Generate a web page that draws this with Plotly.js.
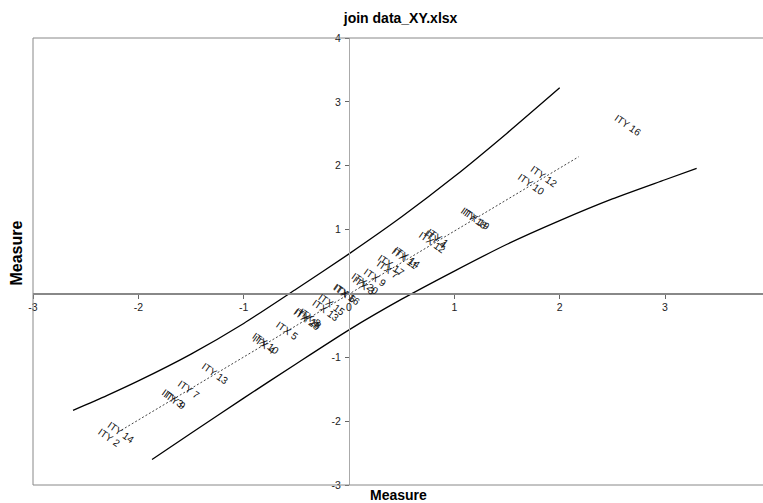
<!DOCTYPE html>
<html>
<head>
<meta charset="utf-8">
<script src="https://cdn.plot.ly/plotly-3.0.1.min.js"></script>
<style>html,body{margin:0;padding:0;background:#fff;}#chart{width:763px;height:503px;}</style>
</head>
<body>
<div id="chart"></div>
<script>
// Upper control curve
const upperX = [-2.62, -2.3, -2.0, -1.5, -1.0, -0.5, 0.0, 0.5, 1.0, 1.5, 2.0];
const upperY = [-1.83, -1.60, -1.37, -0.95, -0.47, 0.07, 0.62, 1.20, 1.83, 2.51, 3.22];
// Lower control curve
const lowerX = [-1.87, -1.5, -1.0, -0.5, 0.0, 0.5, 1.0, 1.5, 2.0, 2.5, 3.0, 3.30];
const lowerY = [-2.60, -2.19, -1.64, -1.10, -0.57, -0.09, 0.35, 0.77, 1.14, 1.48, 1.78, 1.96];
// Identity (trend) line
const trendX = [-2.16, 2.18];
const trendY = [-2.14, 2.14];
// Point labels
const labelText = ["ITY 16","ITY 12","ITY 10","ITY 18","ITX 19","ITY 1","ITX 12","ITY 4",
  "ITX 14","ITX 11","ITX 17","ITX 7","ITX 9","ITX 20","ITX 3","ITX 16","ITX 6",
  "ITX 15","ITX 13","ITX 8","ITX 18","ITX 28","ITX 5","ITX 10","ITX 4",
  "ITY 13","ITY 7","ITY 3","ITY 9","ITY 14","ITY 2"];
const labelX = [2.65,1.85,1.73,1.19,1.21,0.84,0.79,0.82,
  0.55,0.53,0.40,0.37,0.245,0.15,0.14,-0.02,-0.04,
  -0.165,-0.22,-0.37,-0.39,-0.40,-0.59,-0.79,-0.81,
  -1.275,-1.52,-1.67,-1.65,-2.165,-2.28];
const labelY = [2.63,1.83,1.70,1.17,1.15,0.88,0.79,0.84,
  0.56,0.54,0.43,0.38,0.25,0.15,0.13,-0.01,0.0,
  -0.17,-0.26,-0.37,-0.40,-0.41,-0.585,-0.78,-0.80,
  -1.26,-1.50,-1.64,-1.67,-2.18,-2.26];
// Axis ranges and ticks
const xRange = [-3, 3.93];
const yRange = [-3, 4];
const xTicks = [-3, -2, -1, 0, 1, 2, 3];
const yTicks = [-3, -2, -1, 1, 2, 3, 4];
const chartTitle = "join data_XY.xlsx";
const xTitle = "Measure";
const yTitle = "Measure";

const traces = [
  {x: upperX, y: upperY, mode: 'lines', line: {color: '#000', width: 1.3, shape: 'spline', smoothing: 0.6}, hoverinfo: 'skip'},
  {x: lowerX, y: lowerY, mode: 'lines', line: {color: '#000', width: 1.3, shape: 'spline', smoothing: 0.6}, hoverinfo: 'skip'},
  {x: trendX, y: trendY, mode: 'lines', line: {color: '#444', width: 1, dash: '2px,2px'}, hoverinfo: 'skip'}
];

const annotations = labelText.map((t, i) => ({
  x: labelX[i], y: labelY[i], xref: 'x', yref: 'y', text: t, showarrow: false,
  textangle: 35, font: {family: 'Liberation Sans, Arial, sans-serif', size: 10, color: '#111'}
}));
annotations.push({x: 0.5, y: -0.022, xref: 'paper', yref: 'paper', yanchor: 'middle', text: '<b>' + xTitle + '</b>',
  showarrow: false, font: {family: 'Liberation Sans, Arial, sans-serif', size: 14, color: '#000'}});
annotations.push({x: -0.022, y: 0.52, xref: 'paper', yref: 'paper', xanchor: 'center', text: '<b>' + yTitle + '</b>',
  textangle: -90, showarrow: false, font: {family: 'Liberation Sans, Arial, sans-serif', size: 16, color: '#000'}});

const xPos = (0 - yRange[0]) / (yRange[1] - yRange[0]);
const yPos = (0 - xRange[0]) / (xRange[1] - xRange[0]);

const layout = {
  width: 763, height: 503,
  margin: {l: 33, r: 0, t: 38, b: 18},
  paper_bgcolor: '#fff', plot_bgcolor: '#fff',
  showlegend: false,
  title: {text: '<b>' + chartTitle + '</b>', x: 0.525, xanchor: 'center', y: 0.965, yanchor: 'middle',
    font: {family: 'Liberation Sans Narrow, Arial Narrow, Liberation Sans, Arial, sans-serif', size: 14, color: '#000'}},
  xaxis: {range: xRange, anchor: 'free', position: xPos, showgrid: false, zeroline: false,
    showline: true, linecolor: '#888', linewidth: 1.3, ticks: 'outside', ticklen: 4, tickcolor: '#666',
    tickvals: xTicks, ticktext: xTicks.map(String),
    tickfont: {family: 'Liberation Sans, Arial, sans-serif', size: 10.5, color: '#222'}},
  yaxis: {range: yRange, anchor: 'free', position: yPos, showgrid: false, zeroline: false,
    showline: true, linecolor: '#aaa', linewidth: 1, ticks: 'outside', ticklen: 4, tickcolor: '#666',
    ticklabelstandoff: 2,
    tickvals: yTicks, ticktext: yTicks.map(String),
    tickfont: {family: 'Liberation Sans, Arial, sans-serif', size: 10.5, color: '#222'}},
  shapes: [
    {type: 'line', xref: 'paper', yref: 'paper', x0: 0, x1: 1, y0: 1, y1: 1, line: {color: '#888', width: 1}},
    {type: 'line', xref: 'paper', yref: 'paper', x0: 0, x1: 0, y0: 0, y1: 1, line: {color: '#888', width: 1}},
    {type: 'line', xref: 'paper', yref: 'paper', x0: 0, x1: 1, y0: 0, y1: 0, line: {color: '#888', width: 1}}
  ],
  annotations: annotations
};

Plotly.newPlot('chart', traces, layout, {displayModeBar: false, staticPlot: true});
</script>
</body>
</html>
